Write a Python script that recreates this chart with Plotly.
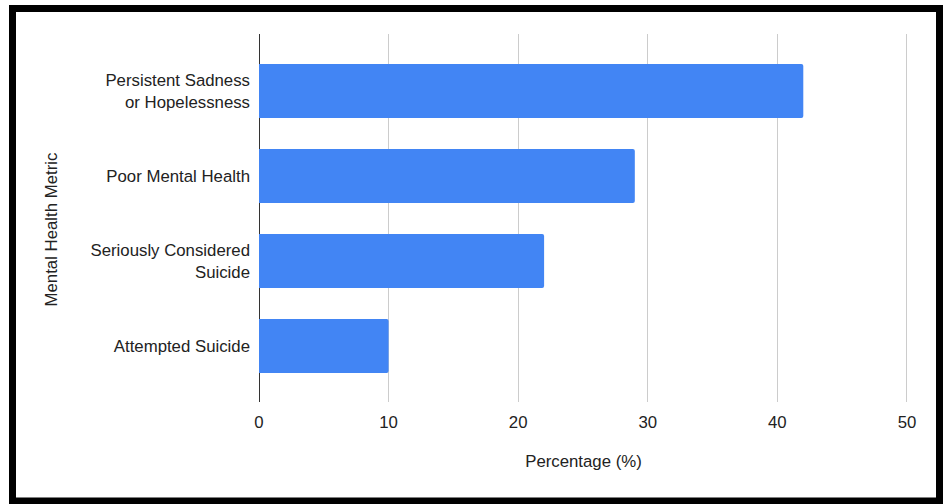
import plotly.graph_objects as go

# Youth mental health metrics (percentage of respondents)
metrics = [
    "Persistent Sadness<br>or Hopelessness",
    "Poor Mental Health",
    "Seriously Considered<br>Suicide",
    "Attempted Suicide",
]
percentages = [42, 29, 22, 10]
x_ticks = [0, 10, 20, 30, 40, 50]

W, H = 943, 504
L, R, T, B = 259, 35, 34, 102
pw, ph = W - L - R, H - T - B


def px_x(p):
    return (p - L) / pw


def px_y(p):
    return (H - B - p) / ph


fig = go.Figure(
    go.Bar(
        x=percentages,
        y=list(range(len(metrics))),
        orientation="h",
        width=0.635,
        marker=dict(color="#4285F4", line=dict(width=0), cornerradius=2),
        hoverinfo="x+y",
    )
)

font_family = "Liberation Sans, Arial, sans-serif"
fs = 16.8

fig.update_layout(
    width=W,
    height=H,
    margin=dict(l=L, r=R, t=T, b=B),
    paper_bgcolor="white",
    plot_bgcolor="white",
    showlegend=False,
    font=dict(family=font_family, size=fs, color="#222222"),
    xaxis=dict(
        range=[0, 50.08],
        tickvals=x_ticks,
        ticktext=[str(v) for v in x_ticks],
        showgrid=True,
        gridcolor="#cccccc",
        gridwidth=1,
        zeroline=True,
        zerolinecolor="#333333",
        zerolinewidth=1,
        showline=False,
        ticks="",
        ticklabelstandoff=8,
        tickfont=dict(size=fs, color="#222222"),
        title=dict(text="Percentage (%)", font=dict(size=fs, color="#222222"), standoff=24),
    ),
    yaxis=dict(
        range=[3.66, -0.67],
        tickvals=list(range(len(metrics))),
        ticktext=metrics,
        showgrid=False,
        zeroline=False,
        showline=False,
        ticks="",
        ticklabelstandoff=8,
        tickfont=dict(size=fs, color="#222222"),
    ),
)

# Vertical axis title, centred slightly below the plot-area midpoint
fig.add_annotation(
    text="Mental Health Metric",
    xref="paper",
    yref="paper",
    x=px_x(51.5),
    y=px_y(230),
    xanchor="center",
    yanchor="middle",
    textangle=-90,
    showarrow=False,
    font=dict(family=font_family, size=fs, color="#222222"),
)

# Thick black frame around the whole chart
fig.add_shape(
    type="rect",
    xref="paper",
    yref="paper",
    x0=px_x(12.5),
    x1=px_x(939.5),
    y0=px_y(501),
    y1=px_y(8.5),
    line=dict(color="black", width=7),
    fillcolor="rgba(0,0,0,0)",
    layer="above",
)

fig.write_html("out.html")
